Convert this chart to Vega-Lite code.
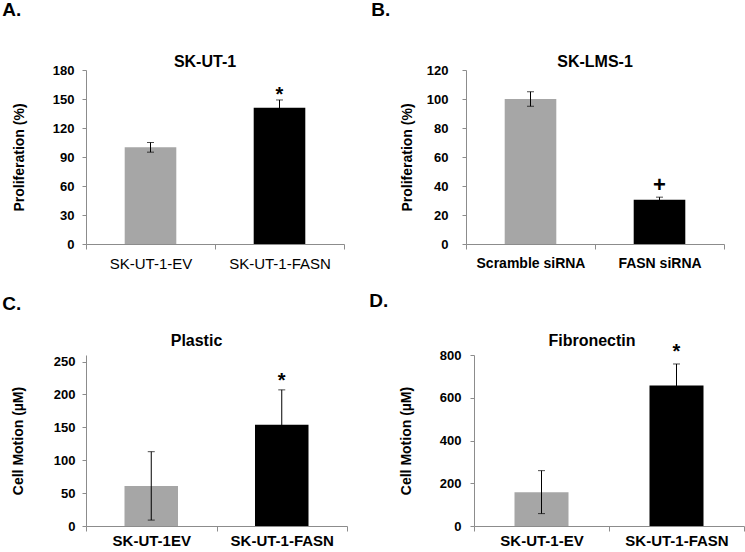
{
  "$schema": "https://vega.github.io/schema/vega-lite/v6.json",
  "padding": {"left": 2, "top": 1, "right": 2, "bottom": 2},
  "background": "white",
  "spacing": 20,
  "datasets": {
    "bars": [
      {"panel": "A", "group": "SK-UT-1-EV", "condition": "control", "value": 100, "lo": 95, "hi": 105, "sig": ""},
      {"panel": "A", "group": "SK-UT-1-FASN", "condition": "treatment", "value": 141, "lo": 133, "hi": 149, "sig": "*"},
      {"panel": "B", "group": "Scramble siRNA", "condition": "control", "value": 100, "lo": 95, "hi": 105, "sig": ""},
      {"panel": "B", "group": "FASN siRNA", "condition": "treatment", "value": 30.5, "lo": 28.8, "hi": 32.3, "sig": "+"},
      {"panel": "C", "group": "SK-UT-1EV", "condition": "control", "value": 61, "lo": 9, "hi": 113, "sig": ""},
      {"panel": "C", "group": "SK-UT-1-FASN", "condition": "treatment", "value": 154, "lo": 101, "hi": 207, "sig": "*"},
      {"panel": "D", "group": "SK-UT-1-EV", "condition": "control", "value": 158, "lo": 58, "hi": 259, "sig": ""},
      {"panel": "D", "group": "SK-UT-1-FASN", "condition": "treatment", "value": 657, "lo": 556, "hi": 758, "sig": "*"}
    ]
  },
  "config": {
    "font": "Liberation Sans",
    "view": {"stroke": null},
    "axis": {"grid": false, "domainColor": "#8c8c8c", "tickColor": "#8c8c8c", "labelColor": "#000000", "labelFontWeight": "bold", "titleFontWeight": "bold", "titleColor": "#000000"},
    "axisY": {"tickSize": 4, "labelFontSize": 13, "titleFontSize": 14, "tickCount": 12, "labelOverlap": false},
    "axisX": {"tickSize": 5, "labelFontSize": 15, "labelAngle": 0, "tickBand": "extent", "labelPadding": 7, "title": null},
    "title": {"fontSize": 16, "fontWeight": "bold", "color": "#000000", "offset": 2}
  },
  "vconcat": [
    {
      "spacing": 26,
      "hconcat": [
        {
          "title": {"text": "A.", "anchor": "start", "frame": "bounds", "fontSize": 19, "offset": 34, "dx": -10},
          "vconcat": [
            {
              "title": {"text": "SK-UT-1", "dx": -10, "offset": -6},
              "width": 258, "height": 174,
              "data": {"name": "bars"},
              "transform": [{"filter": "datum.panel === 'A'"}],
              "encoding": {
                "x": {"field": "group", "type": "nominal", "sort": null, "scale": {"paddingInner": 0, "paddingOuter": 0}, "axis": {"labelFontWeight": "normal"}}
              },
              "layer": [
                {"mark": {"type": "bar", "width": {"band": 0.4}},
                 "encoding": {"y": {"field": "value", "type": "quantitative", "title": "Proliferation (%)", "scale": {"domain": [0, 180]}, "axis": {"values": [0, 30, 60, 90, 120, 150, 180], "labelPadding": 8, "titlePadding": 26}},
                   "color": {"field": "condition", "type": "nominal", "scale": {"domain": ["control", "treatment"], "range": ["#a6a6a6", "#000000"]}, "legend": null}}},
                {"mark": {"type": "errorbar", "ticks": {"size": 7, "color": "#000000"}, "rule": {"color": "#000000"}},
                 "encoding": {"y": {"field": "lo", "type": "quantitative", "title": "Proliferation (%)", "axis": {"values": [0, 30, 60, 90, 120, 150, 180], "labelPadding": 8, "titlePadding": 26}}, "y2": {"field": "hi"}}},
                {"mark": {"type": "text", "fontSize": 20, "fontWeight": "bold", "baseline": "alphabetic", "dy": 1},
                 "encoding": {"y": {"field": "hi", "type": "quantitative", "title": "Proliferation (%)", "axis": {"values": [0, 30, 60, 90, 120, 150, 180], "labelPadding": 8, "titlePadding": 26}}, "text": {"field": "sig"}}}
              ]
            }
          ]
        },
        {
          "title": {"text": "B.", "anchor": "start", "frame": "bounds", "fontSize": 19, "offset": 34, "dx": -29},
          "vconcat": [
            {
              "title": {"text": "SK-LMS-1", "offset": -6},
              "width": 258, "height": 174,
              "data": {"name": "bars"},
              "transform": [{"filter": "datum.panel === 'B'"}],
              "encoding": {
                "x": {"field": "group", "type": "nominal", "sort": null, "scale": {"paddingInner": 0, "paddingOuter": 0}, "axis": {"labelFontSize": 14}}
              },
              "layer": [
                {"mark": {"type": "bar", "width": {"band": 0.4}},
                 "encoding": {"y": {"field": "value", "type": "quantitative", "title": "Proliferation (%)", "scale": {"domain": [0, 120]}, "axis": {"values": [0, 20, 40, 60, 80, 100, 120], "labelPadding": 14, "titlePadding": 12}},
                   "color": {"field": "condition", "type": "nominal", "scale": {"domain": ["control", "treatment"], "range": ["#a6a6a6", "#000000"]}, "legend": null}}},
                {"mark": {"type": "errorbar", "ticks": {"size": 7, "color": "#000000"}, "rule": {"color": "#000000"}},
                 "encoding": {"y": {"field": "lo", "type": "quantitative", "title": "Proliferation (%)", "axis": {"values": [0, 20, 40, 60, 80, 100, 120], "labelPadding": 14, "titlePadding": 12}}, "y2": {"field": "hi"}}},
                {"mark": {"type": "text", "fontSize": 22, "fontWeight": "bold", "baseline": "alphabetic", "dy": -5},
                 "encoding": {"y": {"field": "hi", "type": "quantitative", "title": "Proliferation (%)", "axis": {"values": [0, 20, 40, 60, 80, 100, 120], "labelPadding": 14, "titlePadding": 12}}, "text": {"field": "sig"}}}
              ]
            }
          ]
        }
      ]
    },
    {
      "spacing": 21,
      "hconcat": [
        {
          "title": {"text": "C.", "anchor": "start", "frame": "bounds", "fontSize": 19, "offset": 19, "dx": -9},
          "vconcat": [
            {
              "title": {"text": "Plastic", "dx": -20, "offset": 6},
              "width": 261, "height": 171,
              "data": {"name": "bars"},
              "transform": [{"filter": "datum.panel === 'C'"}],
              "encoding": {
                "x": {"field": "group", "type": "nominal", "sort": null, "scale": {"paddingInner": 0, "paddingOuter": 0}, "axis": {"labelPadding": 2}}
              },
              "layer": [
                {"mark": {"type": "bar", "width": {"band": 0.41}},
                 "encoding": {"y": {"field": "value", "type": "quantitative", "title": "Cell Motion (µM)", "scale": {"domain": [0, 250]}, "axis": {"values": [0, 50, 100, 150, 200, 250], "labelPadding": 7, "titlePadding": 28}},
                   "color": {"field": "condition", "type": "nominal", "scale": {"domain": ["control", "treatment"], "range": ["#a6a6a6", "#000000"]}, "legend": null}}},
                {"mark": {"type": "errorbar", "ticks": {"size": 7, "color": "#000000"}, "rule": {"color": "#000000"}},
                 "encoding": {"y": {"field": "lo", "type": "quantitative", "title": "Cell Motion (µM)", "axis": {"values": [0, 50, 100, 150, 200, 250], "labelPadding": 7, "titlePadding": 28}}, "y2": {"field": "hi"}}},
                {"mark": {"type": "text", "fontSize": 20, "fontWeight": "bold", "baseline": "alphabetic", "dy": -3},
                 "encoding": {"y": {"field": "hi", "type": "quantitative", "title": "Cell Motion (µM)", "axis": {"values": [0, 50, 100, 150, 200, 250], "labelPadding": 7, "titlePadding": 28}}, "text": {"field": "sig"}}}
              ]
            }
          ]
        },
        {
          "title": {"text": "D.", "anchor": "start", "frame": "bounds", "fontSize": 19, "offset": 22, "dx": -30},
          "vconcat": [
            {
              "title": {"text": "Fibronectin", "dx": -17, "offset": -7},
              "width": 270, "height": 171,
              "data": {"name": "bars"},
              "transform": [{"filter": "datum.panel === 'D'"}],
              "encoding": {
                "x": {"field": "group", "type": "nominal", "sort": null, "scale": {"paddingInner": 0, "paddingOuter": 0}, "axis": {"labelPadding": 2}}
              },
              "layer": [
                {"mark": {"type": "bar", "width": {"band": 0.4}},
                 "encoding": {"y": {"field": "value", "type": "quantitative", "title": "Cell Motion (µM)", "scale": {"domain": [0, 800]}, "axis": {"values": [0, 200, 400, 600, 800], "labelPadding": 9, "titlePadding": 26}},
                   "color": {"field": "condition", "type": "nominal", "scale": {"domain": ["control", "treatment"], "range": ["#a6a6a6", "#000000"]}, "legend": null}}},
                {"mark": {"type": "errorbar", "ticks": {"size": 7, "color": "#000000"}, "rule": {"color": "#000000"}},
                 "encoding": {"y": {"field": "lo", "type": "quantitative", "title": "Cell Motion (µM)", "axis": {"values": [0, 200, 400, 600, 800], "labelPadding": 9, "titlePadding": 26}}, "y2": {"field": "hi"}}},
                {"mark": {"type": "text", "fontSize": 20, "fontWeight": "bold", "baseline": "alphabetic", "dy": -6},
                 "encoding": {"y": {"field": "hi", "type": "quantitative", "title": "Cell Motion (µM)", "axis": {"values": [0, 200, 400, 600, 800], "labelPadding": 9, "titlePadding": 26}}, "text": {"field": "sig"}}}
              ]
            }
          ]
        }
      ]
    }
  ]
}
